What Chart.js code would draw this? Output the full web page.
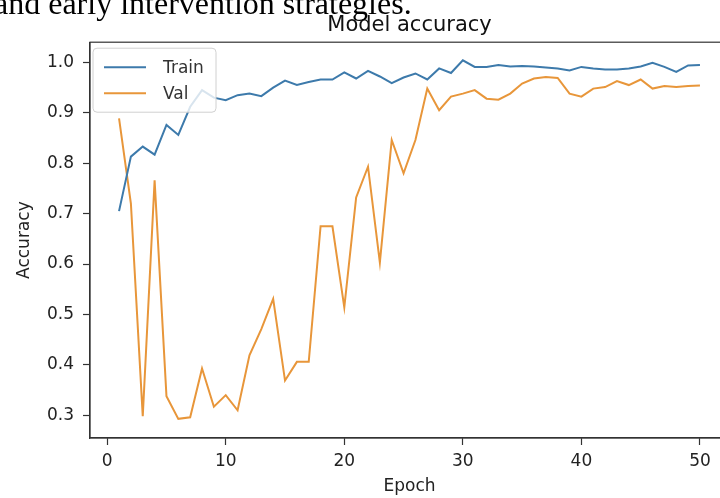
<!DOCTYPE html>
<html>
<head>
<meta charset="utf-8">
<script src="https://cdn.jsdelivr.net/npm/chart.js@4.4.1/dist/chart.umd.min.js"></script>
<style>
html, body { margin:0; padding:0; background:#fff; overflow:hidden; width:720px; height:498px; }
#wrap { position:absolute; left:0; top:0; width:740px; height:498px; }
#topline { position:absolute; left:-6px; top:-13px; font-family:"Liberation Serif", "Times New Roman", serif; font-size:32px; line-height:32px; white-space:nowrap; color:#000; }
</style>
</head>
<body>
<div id="wrap"><canvas id="c" width="740" height="498"></canvas></div>
<div id="topline">and early intervention strategies.</div>
<script>
const chartTitle = 'Model accuracy';
const xAxisTitle = 'Epoch';
const yAxisTitle = 'Accuracy';
const seriesNames = ['Train', 'Val'];
const epochs = [1,2,3,4,5,6,7,8,9,10,11,12,13,14,15,16,17,18,19,20,21,22,23,24,25,26,27,28,29,30,31,32,33,34,35,36,37,38,39,40,41,42,43,44,45,46,47,48,49,50];
const trainAcc = [0.705,0.813,0.833,0.817,0.876,0.856,0.912,0.945,0.930,0.925,0.935,0.938,0.933,0.950,0.964,0.955,0.961,0.966,0.966,0.980,0.968,0.983,0.972,0.959,0.970,0.978,0.966,0.988,0.979,1.004,0.991,0.991,0.995,0.992,0.993,0.992,0.990,0.988,0.984,0.991,0.988,0.986,0.986,0.988,0.992,0.999,0.991,0.981,0.994,0.995];
const valAcc = [0.889,0.720,0.298,0.766,0.338,0.293,0.296,0.393,0.317,0.340,0.310,0.419,0.471,0.531,0.369,0.406,0.406,0.675,0.675,0.514,0.732,0.793,0.603,0.846,0.780,0.846,0.948,0.905,0.932,0.938,0.945,0.928,0.926,0.938,0.958,0.968,0.971,0.969,0.938,0.932,0.948,0.951,0.963,0.955,0.966,0.948,0.953,0.951,0.953,0.954];
const xTicks = [0,10,20,30,40,50];
const yTicks = [0.3,0.4,0.5,0.6,0.7,0.8,0.9,1.0];
const seriesColors = ['#3d7aab', '#e8963a'];

const FONT = "'DejaVu Sans', sans-serif";
const toPoints = (xs, ys) => xs.map((x, i) => ({ x: x, y: ys[i] }));

const framePlugin = {
  id: 'frame',
  afterDraw(chart) {
    const { ctx, chartArea: a } = chart;
    ctx.save();
    ctx.strokeStyle = '#333';
    ctx.lineWidth = 1.2;
    ctx.strokeRect(a.left, a.top, a.right - a.left, a.bottom - a.top);
    ctx.restore();
  }
};

const legendPlugin = {
  id: 'mplLegend',
  afterDatasetsDraw(chart) {
    const { ctx, chartArea: a } = chart;
    const x0 = a.left + 3, y0 = a.top + 6, w = 123, h = 64;
    ctx.save();
    ctx.beginPath();
    if (ctx.roundRect) ctx.roundRect(x0, y0, w, h, 4); else ctx.rect(x0, y0, w, h);
    ctx.fillStyle = 'rgba(255,255,255,0.8)';
    ctx.fill();
    ctx.strokeStyle = '#d0d0d0';
    ctx.lineWidth = 1;
    ctx.stroke();
    chart.data.datasets.forEach((ds, i) => {
      const yy = y0 + 19 + i * 26;
      ctx.beginPath();
      ctx.moveTo(x0 + 11, yy);
      ctx.lineTo(x0 + 53, yy);
      ctx.strokeStyle = ds.borderColor;
      ctx.lineWidth = 2;
      ctx.stroke();
      ctx.fillStyle = '#333';
      ctx.font = '17px ' + FONT;
      ctx.textBaseline = 'middle';
      ctx.fillText(ds.label, x0 + 70, yy + 1);
    });
    ctx.restore();
  }
};

new Chart(document.getElementById('c'), {
  type: 'line',
  data: {
    datasets: [
      { label: seriesNames[0], data: toPoints(epochs, trainAcc), borderColor: seriesColors[0], borderWidth: 2, pointRadius: 0, tension: 0, fill: false },
      { label: seriesNames[1], data: toPoints(epochs, valAcc), borderColor: seriesColors[1], borderWidth: 2, pointRadius: 0, tension: 0, fill: false }
    ]
  },
  options: {
    responsive: false,
    animation: false,
    devicePixelRatio: 1,
    layout: { padding: { left: 0, right: 11, top: 0, bottom: 0 } },
    plugins: {
      legend: { display: false },
      tooltip: { enabled: false },
      title: {
        display: true, text: chartTitle, fullSize: false,
        color: '#111', font: { family: FONT, size: 21, weight: 'normal', lineHeight: 1.2 },
        padding: { top: 13, bottom: 4 }
      }
    },
    scales: {
      x: {
        type: 'linear', min: -1.45, max: 52.45,
        afterBuildTicks: (s) => { s.ticks = xTicks.map(v => ({ value: v })); },
        afterFit: (s) => { s.height = 60; },
        ticks: { color: '#222', font: { family: FONT, size: 17 }, padding: 6, maxRotation: 0, autoSkip: false, callback: (v) => String(v) },
        grid: { display: true, drawOnChartArea: false, drawTicks: true, tickLength: 7, tickColor: '#333', tickWidth: 1.2 },
        border: { display: true, color: '#333', width: 1.2 },
        title: { display: true, text: xAxisTitle, color: '#222', font: { family: FONT, size: 17, lineHeight: 1.2 }, padding: { top: 0, bottom: 1 } }
      },
      y: {
        type: 'linear', min: 0.255, max: 1.04,
        afterBuildTicks: (s) => { s.ticks = yTicks.map(v => ({ value: v })); },
        afterFit: (s) => { s.width = 90; },
        ticks: { color: '#222', font: { family: FONT, size: 17 }, padding: 9, autoSkip: false, callback: (v) => Number(v).toFixed(1) },
        grid: { display: true, drawOnChartArea: false, drawTicks: true, tickLength: 7, tickColor: '#333', tickWidth: 1.2 },
        border: { display: true, color: '#333', width: 1.2 },
        title: { display: true, text: yAxisTitle, color: '#222', font: { family: FONT, size: 17, lineHeight: 1.2 }, padding: { top: 14, bottom: 0 } }
      }
    }
  },
  plugins: [framePlugin, legendPlugin]
});
</script>
</body>
</html>
